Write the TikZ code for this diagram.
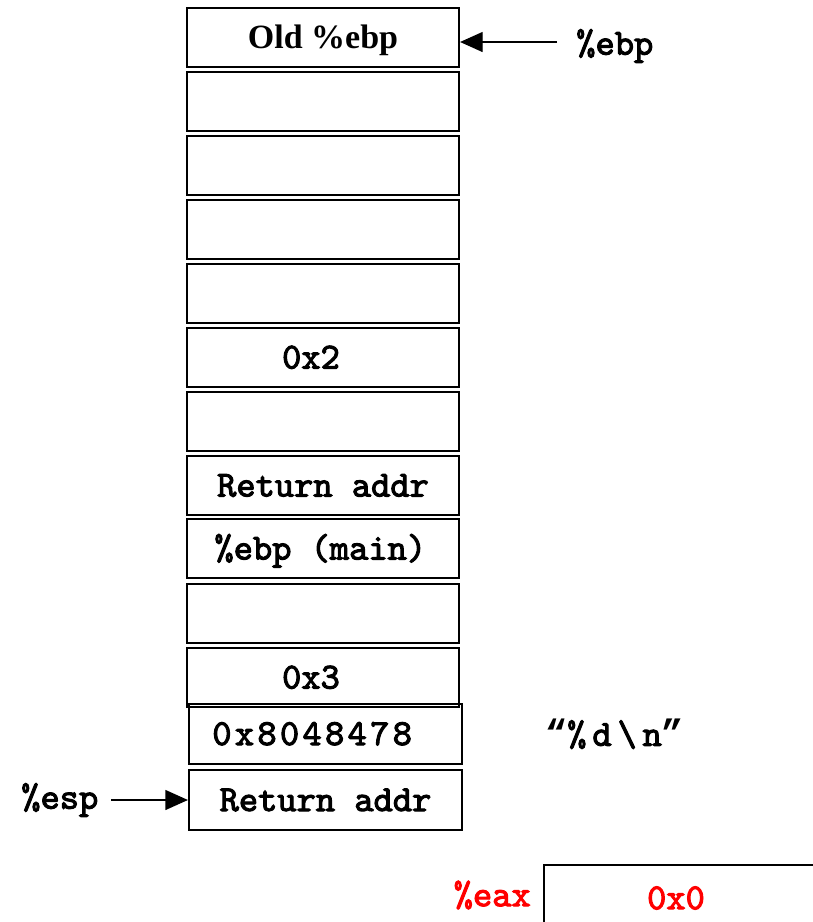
\documentclass[tikz,border=0pt]{standalone}
\usepackage{fontspec}
\setmainfont{Liberation Serif}
\newfontfamily\heavymono[FakeBold=2.8]{lmmono10-regular.otf}
\newfontfamily\quotefont{Liberation Mono}
\usetikzlibrary{arrows.meta}
\newcommand{\cellfont}{\heavymono\fontsize{27.5}{30}\selectfont}
\begin{document}
\begin{tikzpicture}[x=0.75pt,y=-0.75pt,
  cell/.style={draw=black,line width=1.6pt,minimum width=272*0.75pt,minimum height=59*0.75pt,
    inner sep=0pt,text height=16.5pt,text depth=0pt,font=\cellfont},
  heavycell/.style={cell,line width=2.2pt},
  wide/.style={cell,minimum width=273*0.75pt,minimum height=60*0.75pt},
  reglabel/.style={font=\cellfont,inner sep=0pt},
  ptr/.style={line width=1.1pt,-{Triangle[length=17pt,width=15pt]}},
  regred/.style={text=red,font=\cellfont,inner sep=0pt}]
\useasboundingbox (0,0) rectangle (813,922);
\clip (0,0) rectangle (813,922);

% stack cells, top to bottom
\node[cell,font=\rmfamily\bfseries\fontsize{25.5}{28}\selectfont,text height=17pt] (s1) at (323,37.5) {Old \%ebp};
\node[cell] (s2)  at (323,101.5) {};
\node[cell] (s3)  at (323,165.5) {};
\node[heavycell] (s4)  at (323,229.5) {};
\node[heavycell] (s5)  at (323,293.5) {};
\node[cell] (s6)  at (323,357.5) {\hspace*{-18pt}0x2};
\node[cell] (s7)  at (323,421.5) {};
\node[cell] (s8)  at (323,485.5) {Return addr};
\node[cell] (s9)  at (323,548.5) {\hspace*{-4pt}\%ebp (main)};
\node[cell] (s10) at (323,613.5) {};
\node[cell] (s11) at (323,677.5) {\hspace*{-18pt}0x3};
\node[wide] (s12) at (325.5,734) {\hspace*{-20pt}\addfontfeature{LetterSpace=9}0x8048478};
\node[wide] (s13) at (325.5,800) {Return addr};

% frame and stack pointers
\node[reglabel,anchor=west] (ebp) at (576,46) {\%ebp};
\coordinate (ebpstart) at (557,42);
\draw[ptr] (ebpstart) -- (s1.east |- ebpstart);

\node[reglabel,anchor=west] (esp) at (21,800) {\%esp};
\coordinate (espstart) at (111,800);
\draw[ptr] (espstart) -- (s13.west |- espstart);

% format string
\node[font=\cellfont,anchor=west,inner sep=0pt] (fmt) at (545,734)
  {{\quotefont\bfseries “}\addfontfeature{LetterSpace=16}\%d\textbackslash n{\quotefont\bfseries ”}};

% return register
\node[draw=black,line width=1.2pt,minimum width=320*0.75pt,minimum height=90*0.75pt,inner sep=0pt,anchor=north west] (eaxbox) at (543,864) {};
\node[regred,anchor=east] (eax) at (531,895) {\%eax};
\node[regred] (zero) at (676,898) {0x0};
\end{tikzpicture}
\end{document}
